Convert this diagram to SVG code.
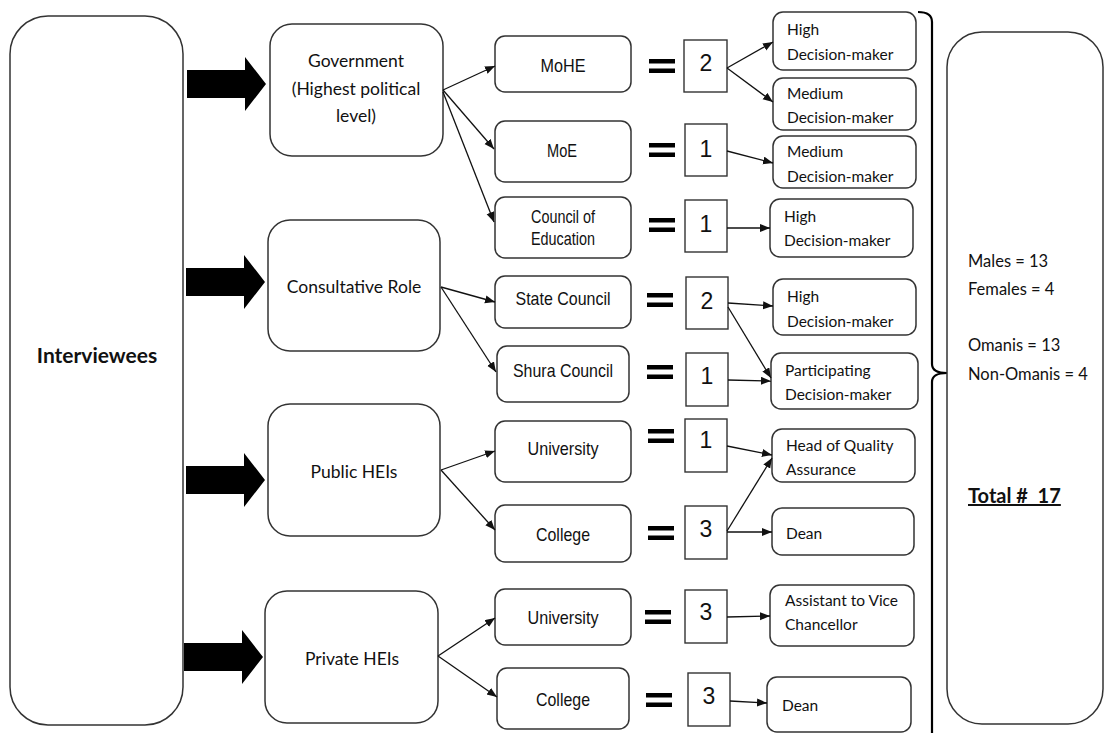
<svg xmlns="http://www.w3.org/2000/svg" xmlns:xlink="http://www.w3.org/1999/xlink" width="1104" height="733" viewBox="0 0 1104 733">
<style>
.box{fill:#fff;stroke:#333;stroke-width:1.5}
.nbox{fill:#fff;stroke:#333;stroke-width:1.4}
.t1{font-family:Lato,"Liberation Sans",sans-serif;font-size:17.5px;fill:#111;text-anchor:middle}
.t2{font-family:"Liberation Sans",Arial,sans-serif;font-size:18.5px;fill:#111;text-anchor:middle}
.t3{font-family:Lato,"Liberation Sans",sans-serif;font-size:15.5px;fill:#111}
.num{font-family:"Liberation Sans",Arial,sans-serif;font-size:23px;fill:#111;text-anchor:middle}
.side{font-family:Lato,"Liberation Sans",sans-serif;font-size:16.5px;fill:#111}
.con{stroke:#111;stroke-width:1.3;fill:none;marker-end:url(#ah)}
</style>
<defs>
<marker id="ah" markerUnits="userSpaceOnUse" markerWidth="11" markerHeight="9" refX="10" refY="4" orient="auto">
<path d="M0,0 L10,4 L0,8 z" fill="#111"/>
</marker>
<path id="big" d="M0,-14 L58,-14 L58,-27 L79,0 L58,27 L58,14 L0,14 z" fill="#000"/>
<g id="eq" fill="#000"><rect x="-13" y="-7" width="26" height="4.5"/><rect x="-13" y="2.5" width="26" height="4.5"/></g>
</defs>
<rect width="1104" height="733" fill="#fff"/>

<g id="interviewees">
<rect class="box" x="10" y="16" width="173" height="709" rx="38"/>
<text x="97" y="363" font-family="Lato,'Liberation Sans',sans-serif" font-size="21" font-weight="bold" text-anchor="middle" fill="#111">Interviewees</text>
</g>

<g id="bigarrows">
<use xlink:href="#big" x="187" y="84"/>
<use xlink:href="#big" x="186" y="282"/>
<use xlink:href="#big" x="186" y="480"/>
<use xlink:href="#big" x="184" y="657"/>
</g>

<g id="government">
<rect class="box" x="270" y="24" width="173" height="132" rx="22"/>
<text class="t1" x="356" y="67">Government</text>
<text class="t1" x="356" y="95">(Highest political</text>
<text class="t1" x="356" y="122">level)</text>
</g>
<g id="consultative">
<rect class="box" x="268" y="220" width="172" height="131" rx="22"/>
<text class="t1" x="354" y="293">Consultative Role</text>
</g>
<g id="publichei">
<rect class="box" x="268" y="404" width="172" height="132" rx="22"/>
<text class="t1" x="354" y="478">Public HEIs</text>
</g>
<g id="privatehei">
<rect class="box" x="265" y="591" width="173" height="132" rx="22"/>
<text class="t1" x="352" y="665">Private HEIs</text>
</g>

<g id="mohe"><rect class="box" x="495" y="36" width="136" height="56" rx="10"/><text class="t2" x="563" y="72" textLength="45" lengthAdjust="spacingAndGlyphs">MoHE</text></g>
<g id="moe"><rect class="box" x="495" y="121" width="136" height="61" rx="10"/><text class="t2" x="562" y="157" textLength="30" lengthAdjust="spacingAndGlyphs" font-size="16">MoE</text></g>
<g id="council"><rect class="box" x="495" y="197" width="136" height="61" rx="10"/><text class="t2" x="563" y="223" textLength="64" lengthAdjust="spacingAndGlyphs" font-size="16">Council of</text><text class="t2" x="563" y="245" textLength="64" lengthAdjust="spacingAndGlyphs" font-size="16">Education</text></g>
<g id="state"><rect class="box" x="495" y="276" width="136" height="52" rx="10"/><text class="t2" x="563" y="305" textLength="95" lengthAdjust="spacingAndGlyphs">State Council</text></g>
<g id="shura"><rect class="box" x="497" y="346" width="132" height="56" rx="10"/><text class="t2" x="563" y="377" textLength="100" lengthAdjust="spacingAndGlyphs">Shura Council</text></g>
<g id="univpub"><rect class="box" x="495" y="421" width="136" height="61" rx="10"/><text class="t2" x="563" y="455" textLength="71" lengthAdjust="spacingAndGlyphs">University</text></g>
<g id="collpub"><rect class="box" x="495" y="505" width="136" height="57" rx="10"/><text class="t2" x="563" y="541" textLength="54" lengthAdjust="spacingAndGlyphs">College</text></g>
<g id="univpriv"><rect class="box" x="495" y="589" width="136" height="56" rx="10"/><text class="t2" x="563" y="624" textLength="71" lengthAdjust="spacingAndGlyphs">University</text></g>
<g id="collpriv"><rect class="box" x="497" y="668" width="132" height="61" rx="10"/><text class="t2" x="563" y="706" textLength="54" lengthAdjust="spacingAndGlyphs">College</text></g>

<g id="equals">
<use xlink:href="#eq" x="662" y="66"/>
<use xlink:href="#eq" x="662" y="150"/>
<use xlink:href="#eq" x="662" y="225"/>
<use xlink:href="#eq" x="660" y="300"/>
<use xlink:href="#eq" x="660" y="372"/>
<use xlink:href="#eq" x="661" y="436"/>
<use xlink:href="#eq" x="661" y="533"/>
<use xlink:href="#eq" x="658" y="617"/>
<use xlink:href="#eq" x="659" y="700"/>
</g>

<g id="n1"><rect class="nbox" x="684" y="40" width="43" height="52"/><text class="num" x="706" y="71">2</text></g>
<g id="n2"><rect class="nbox" x="685" y="124" width="42" height="52"/><text class="num" x="706" y="157">1</text></g>
<g id="n3"><rect class="nbox" x="685" y="200" width="42" height="52"/><text class="num" x="706" y="232">1</text></g>
<g id="n4"><rect class="nbox" x="686" y="277" width="42" height="52"/><text class="num" x="707" y="309">2</text></g>
<g id="n5"><rect class="nbox" x="686" y="353" width="42" height="53"/><text class="num" x="707" y="384">1</text></g>
<g id="n6"><rect class="nbox" x="685" y="419" width="42" height="53"/><text class="num" x="706" y="448">1</text></g>
<g id="n7"><rect class="nbox" x="685" y="506" width="42" height="53"/><text class="num" x="706" y="537">3</text></g>
<g id="n8"><rect class="nbox" x="685" y="590" width="42" height="53"/><text class="num" x="706" y="620">3</text></g>
<g id="n9"><rect class="nbox" x="688" y="673" width="42" height="53"/><text class="num" x="709" y="704">3</text></g>

<g id="r1"><rect class="box" x="773" y="12" width="143" height="58" rx="10"/><text class="t3" x="787" y="35">High</text><text class="t3" x="787" y="60">Decision-maker</text></g>
<g id="r2"><rect class="box" x="773" y="78" width="143" height="52" rx="10"/><text class="t3" x="787" y="99">Medium</text><text class="t3" x="787" y="123">Decision-maker</text></g>
<g id="r3"><rect class="box" x="773" y="136" width="143" height="52" rx="10"/><text class="t3" x="787" y="157">Medium</text><text class="t3" x="787" y="182">Decision-maker</text></g>
<g id="r4"><rect class="box" x="770" y="199" width="143" height="58" rx="10"/><text class="t3" x="784" y="222">High</text><text class="t3" x="784" y="246">Decision-maker</text></g>
<g id="r5"><rect class="box" x="773" y="279" width="143" height="56" rx="10"/><text class="t3" x="787" y="302">High</text><text class="t3" x="787" y="327">Decision-maker</text></g>
<g id="r6"><rect class="box" x="771" y="353" width="147" height="56" rx="10"/><text class="t3" x="785" y="376">Participating</text><text class="t3" x="785" y="400">Decision-maker</text></g>
<g id="r7"><rect class="box" x="772" y="429" width="143" height="53" rx="10"/><text class="t3" x="786" y="451">Head of Quality</text><text class="t3" x="786" y="475">Assurance</text></g>
<g id="r8"><rect class="box" x="772" y="508" width="142" height="47" rx="10"/><text class="t3" x="786" y="539">Dean</text></g>
<g id="r9"><rect class="box" x="770" y="585" width="144" height="61" rx="10"/><text class="t3" x="785" y="606">Assistant to Vice</text><text class="t3" x="785" y="630">Chancellor</text></g>
<g id="r10"><rect class="box" x="767" y="677" width="144" height="55" rx="10"/><text class="t3" x="782" y="711">Dean</text></g>

<g id="connectors">
<line class="con" x1="443" y1="90" x2="495" y2="66"/>
<line class="con" x1="443" y1="90" x2="494" y2="149"/>
<line class="con" x1="443" y1="92" x2="494" y2="222"/>
<line class="con" x1="441" y1="287" x2="495" y2="302"/>
<line class="con" x1="441" y1="287" x2="496" y2="372"/>
<line class="con" x1="441" y1="470" x2="495" y2="451"/>
<line class="con" x1="441" y1="470" x2="495" y2="530"/>
<line class="con" x1="438" y1="656" x2="495" y2="618"/>
<line class="con" x1="438" y1="656" x2="497" y2="697"/>
<line class="con" x1="727" y1="68" x2="773" y2="42"/>
<line class="con" x1="727" y1="68" x2="773" y2="102"/>
<line class="con" x1="727" y1="151" x2="773" y2="163"/>
<line class="con" x1="727" y1="228" x2="770" y2="228"/>
<line class="con" x1="728" y1="303" x2="773" y2="306"/>
<line class="con" x1="728" y1="307" x2="771" y2="378"/>
<line class="con" x1="728" y1="380" x2="771" y2="381"/>
<line class="con" x1="727" y1="446" x2="772" y2="455"/>
<line class="con" x1="727" y1="531" x2="772" y2="458"/>
<line class="con" x1="727" y1="532" x2="772" y2="532"/>
<line class="con" x1="727" y1="617" x2="770" y2="616"/>
<line class="con" x1="730" y1="701" x2="767" y2="703"/>
<path d="M918,12 Q932,12 932,22 L932,364 Q932,373 947,373 Q932,373 932,382 L932,735" fill="none" stroke="#000" stroke-width="2.2"/>
</g>

<g id="summary">
<rect class="box" x="947" y="32" width="156" height="692" rx="35"/>
<text class="side" x="968" y="267">Males = 13</text>
<text class="side" x="968" y="295">Females = 4</text>
<text class="side" x="968" y="351">Omanis = 13</text>
<text class="side" x="968" y="380">Non-Omanis = 4</text>
<text x="968" y="503" font-family="Lato,'Liberation Sans',sans-serif" font-size="20" font-weight="bold" text-decoration="underline" fill="#111" xml:space="preserve">Total #  17</text>
</g>
</svg>
